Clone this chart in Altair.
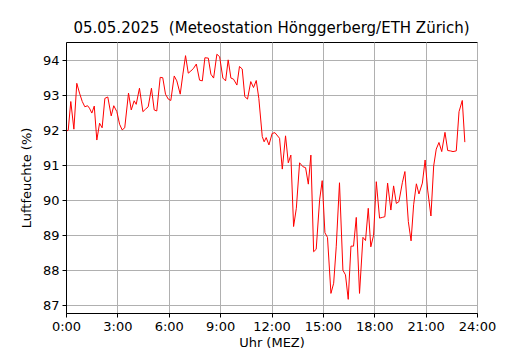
import altair as alt
import pandas as pd

hours = [0.05, 0.13, 0.28, 0.46, 0.63, 0.79, 0.95, 1.10, 1.26, 1.37, 1.51, 1.65, 1.80, 1.96,
         2.11, 2.27, 2.44, 2.64, 2.79, 2.97, 3.13, 3.28, 3.43, 3.65, 3.81, 3.98,
         4.10, 4.29, 4.49, 4.64, 4.80, 4.99, 5.15, 5.30, 5.50, 5.65, 5.81, 5.97, 6.12,
         6.32, 6.47, 6.67, 6.82, 6.98, 7.14, 7.29, 7.45, 7.61, 7.80, 7.96, 8.11,
         8.31, 8.46, 8.62, 8.81, 8.97, 9.16, 9.32, 9.47, 9.63, 9.78, 9.98, 10.13, 10.29,
         10.44, 10.60, 10.79, 10.95, 11.11, 11.26, 11.46, 11.57, 11.69, 11.85, 12.04, 12.20,
         12.47, 12.63, 12.82, 12.98, 13.13, 13.29, 13.45, 13.64, 13.83, 13.99, 14.15, 14.30,
         14.46, 14.61, 14.81, 14.96, 15.12, 15.27, 15.47, 15.63, 15.78, 15.97, 16.17, 16.32,
         16.48, 16.64, 16.79, 16.95, 17.14, 17.34, 17.49, 17.65, 17.80, 17.96, 18.12, 18.31,
         18.47, 18.62, 18.78, 18.97, 19.13, 19.29, 19.44, 19.64, 19.79, 19.99, 20.15,
         20.30, 20.46, 20.61, 20.81, 20.97, 21.12, 21.31, 21.47, 21.62, 21.78, 21.94, 22.13,
         22.29, 22.44, 22.60, 22.79, 22.95, 23.14, 23.29]

humidity = [91.98, 92.00, 92.82, 92.03, 93.34, 93.06, 92.82, 92.67, 92.70, 92.63, 92.49, 92.69, 91.72, 92.20,
            92.07, 92.91, 92.95, 92.41, 92.70, 92.53, 92.17, 92.01, 92.07, 93.06, 92.58, 92.84,
            92.74, 93.20, 92.53, 92.60, 92.67, 93.20, 92.58, 92.55, 93.51, 93.50, 93.03, 92.89, 92.85,
            93.55, 93.41, 93.03, 93.58, 94.13, 93.63, 93.69, 93.77, 93.89, 93.43, 93.41, 94.07,
            94.06, 93.60, 93.49, 94.17, 94.10, 93.49, 93.41, 94.01, 93.49, 93.46, 93.29, 93.82, 93.75,
            92.96, 92.89, 93.39, 93.22, 93.42, 92.91, 91.82, 91.67, 91.79, 91.58, 91.91, 91.93,
            91.77, 90.89, 91.84, 91.07, 91.29, 89.25, 89.77, 91.07, 90.96, 90.93, 90.46, 91.29,
            88.53, 88.60, 90.01, 90.56, 89.07, 88.94, 87.34, 87.63, 88.67, 90.50, 88.00, 87.87,
            87.17, 88.69, 88.69, 89.51, 87.34, 88.94, 88.85, 89.77, 88.67, 89.00, 90.53, 89.49,
            89.51, 89.53, 90.49, 89.72, 90.41, 89.91, 89.96, 90.50, 90.82, 89.39, 88.84,
            89.87, 90.47, 90.18, 90.49, 91.15, 90.29, 89.55, 90.98, 91.46, 91.65, 91.39, 91.94,
            91.42, 91.41, 91.39, 91.41, 92.53, 92.85, 91.66]

x_ticks = [0, 3, 6, 9, 12, 15, 18, 21, 24]
y_ticks = [87, 88, 89, 90, 91, 92, 93, 94]

df = pd.DataFrame({"t": hours, "h": humidity})

font = "DejaVu Sans"

chart = alt.Chart(df).mark_line(color="#ff0000", strokeWidth=1).encode(
    x=alt.X("t:Q",
            scale=alt.Scale(domain=[0, 24], nice=False, zero=False),
            axis=alt.Axis(values=x_ticks, labelExpr="floor(datum.value) + ':00'",
                          labelOverlap=False, labelFlush=False, labelBound=False,
                          title="Uhr (MEZ)", titlePadding=3)),
    y=alt.Y("h:Q",
            scale=alt.Scale(domain=[86.78, 94.52], nice=False, zero=False),
            axis=alt.Axis(values=y_ticks, labelOverlap=False, labelFlush=False,
                          title="Luftfeuchte (%)", titlePadding=9)),
).properties(
    width=411,
    height=271,
    title=alt.TitleParams("05.05.2025\u00a0 (Meteostation Hönggerberg/ETH Zürich)",
                          fontSize=15, font=font, fontWeight="normal", color="black", offset=6),
    autosize=alt.AutoSizeParams(type="none"),
    padding={"left": 58, "top": 34, "right": 40, "bottom": 40},
).configure_view(
    stroke="black", strokeWidth=1
).configure_axis(
    labelFont=font, titleFont=font, labelFontSize=13, titleFontSize=13,
    labelColor="black", titleColor="black", titleFontWeight="normal",
    domainColor="black", tickColor="black", tickSize=4, labelPadding=3,
    gridColor="#b0b0b0", gridWidth=1
)

chart.save("out.html", embed_options={"renderer": "svg", "actions": False})
